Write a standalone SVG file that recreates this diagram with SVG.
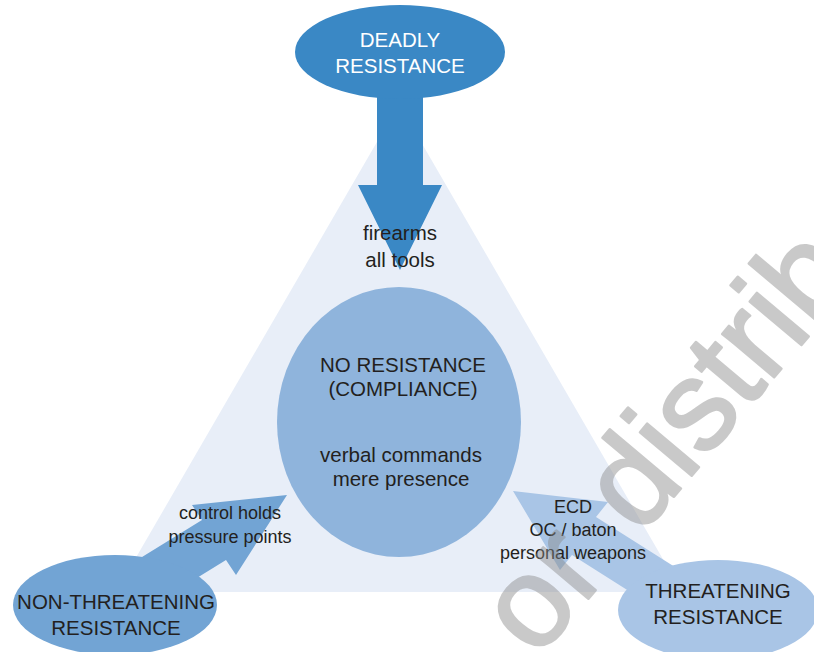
<svg xmlns="http://www.w3.org/2000/svg" width="814" height="652" viewBox="0 0 814 652">
<style>
text{font-family:"Liberation Sans",Arial,sans-serif;text-anchor:middle;fill:#231f20}
.big{font-size:20.5px}
.sm{font-size:18px}
.wh{fill:#ffffff}
.wm{font-size:128px;fill:#8a8a8a;stroke:#8a8a8a;stroke-width:2.5;stroke-linejoin:round;text-anchor:start}
</style>
<rect width="814" height="652" fill="#ffffff"/>
<g id="triangle"><polygon points="399,104 682,592 116,592" fill="#e8eef8"/></g>
<g id="connectors">
<polygon id="arrow-deadly" points="377,95 423,95 423,185 442,185 400,270 358,185 377,185" fill="#3a88c5"/>
<polygon id="arrow-nonthreat" points="108,578 202,520 192,505 287,495 236,575 226,560 132,618" fill="#72a4d4"/>
<polygon id="arrow-threat" points="513,491 608,502 596,517 697,581 673,619 572,555 560,570" fill="#a9c5e6"/>
</g>
<g id="deadly">
<ellipse cx="400" cy="52" rx="105" ry="47" fill="#3a88c5"/>
<text class="big wh" x="400" y="47">DEADLY</text>
<text class="big wh" x="400" y="73">RESISTANCE</text>
</g>
<g id="deadly-label">
<text class="big" x="400" y="240">firearms</text>
<text class="big" x="400" y="267">all tools</text>
</g>
<g id="compliance">
<ellipse cx="399" cy="422" rx="122" ry="135" fill="#8fb4dc"/>
<text class="big" x="403" y="371.5">NO RESISTANCE</text>
<text class="big" x="403" y="396">(COMPLIANCE)</text>
<text class="big" x="401" y="461.5">verbal commands</text>
<text class="big" x="401" y="486">mere presence</text>
</g>
<g id="nonthreat-label">
<text class="sm" x="230" y="519">control holds</text>
<text class="sm" x="230" y="543">pressure points</text>
</g>
<g id="threat-label">
<text class="sm" x="573" y="513">ECD</text>
<text class="sm" x="573" y="536">OC / baton</text>
<text class="sm" x="573" y="559">personal weapons</text>
</g>
<g id="nonthreatening">
<ellipse cx="115" cy="605" rx="102" ry="50" fill="#72a4d4"/>
<text class="big" x="116" y="609">NON-THREATENING</text>
<text class="big" x="116" y="635">RESISTANCE</text>
</g>
<g id="threatening">
<ellipse cx="718" cy="610" rx="100" ry="50" fill="#a9c5e6"/>
<text class="big" x="718" y="598">THREATENING</text>
<text class="big" x="718" y="624">RESISTANCE</text>
</g>
<g id="watermark" opacity="0.45" transform="translate(537,660) rotate(-50)">
<text class="wm" x="0" y="0">or<tspan x="161">distrib</tspan></text>
</g>
</svg>
